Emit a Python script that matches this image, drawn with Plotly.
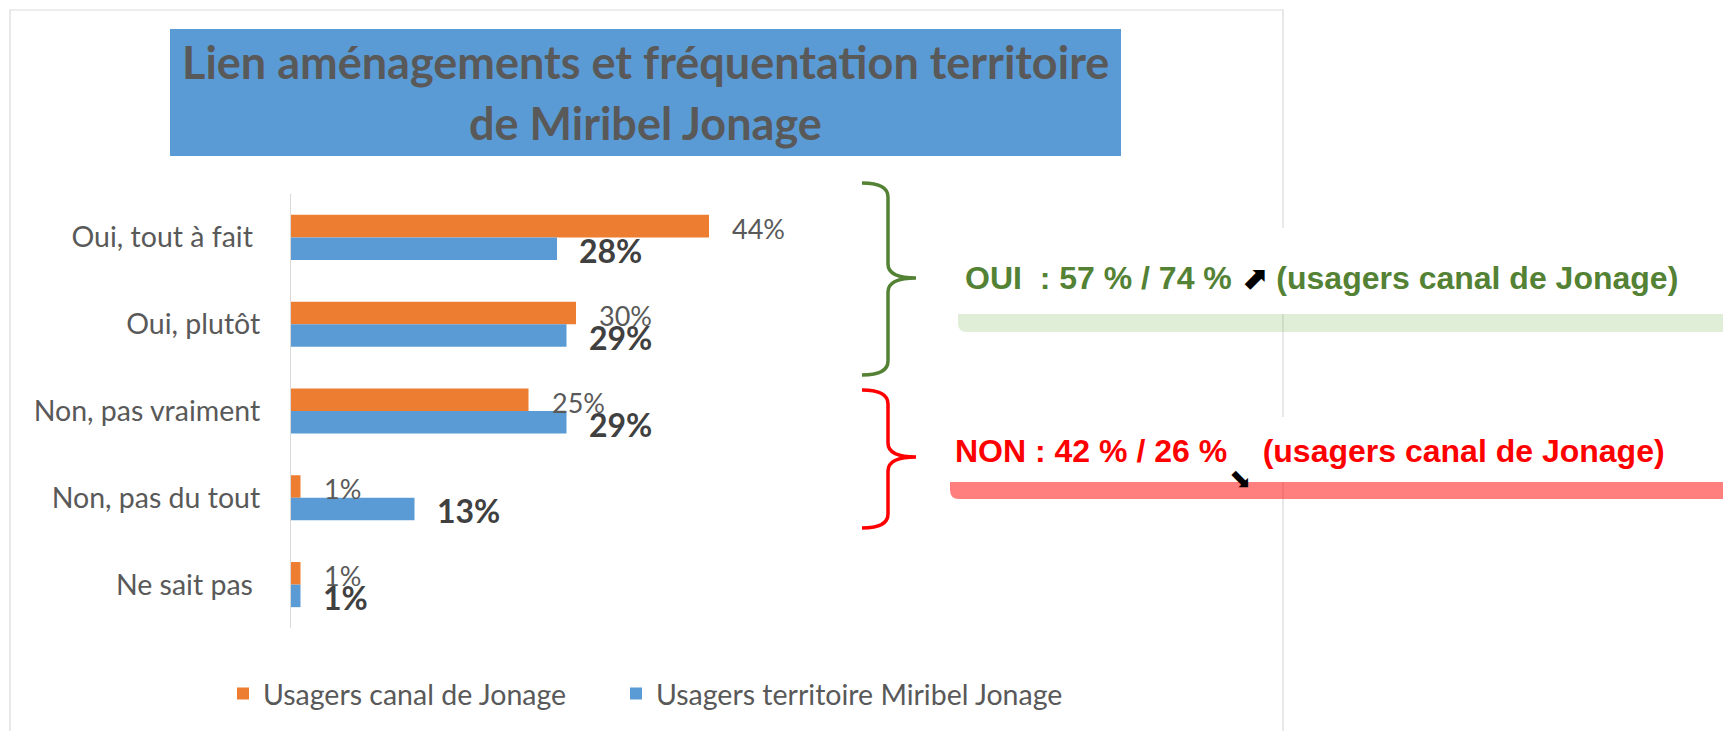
import plotly.graph_objects as go

# data
categories = ["Oui, tout à fait", "Oui, plutôt", "Non, pas vraiment", "Non, pas du tout", "Ne sait pas"]
tick_labels = ["Oui, tout à fait\u00a0", "Oui, plutôt", "Non, pas vraiment", "Non, pas du tout",
               "Ne sait pas\u00a0"]
canal = [44, 30, 25, 1, 1]
territoire = [28, 29, 29, 13, 1]
series_names = ["Usagers canal de Jonage", "Usagers territoire Miribel Jonage"]
title_lines = ["Lien aménagements et fréquentation territoire", "de Miribel Jonage"]
oui_text = ("OUI\u00a0 : 57 % / 74 % <span style='color:black;font-family:DejaVu Sans'>⬈</span>"
            " (usagers canal de Jonage)")
non_text = "NON : 42 % / 26 %\u00a0\u00a0\u00a0\u00a0(usagers canal de Jonage)"

ORANGE = "#ED7D31"
BLUE = "#5B9BD5"
GREY = "#595959"
GREEN = "#548235"
RED = "#FF0000"

# the page puts the figure 8px in from the top-left corner (body margin),
# so every target position below is a page pixel and the figure is kept inside the window
OFF = 8
PAGE_W, PAGE_H = 1731, 739
W, H = PAGE_W - 2 * OFF, PAGE_H - 2 * OFF
L, R, T, B = 291, 1241, 194, 628  # plot area, page pixels


def px(x):
    return (x - L) / (R - L)


def py(y):
    return (B - y) / (B - T)


fig = go.Figure()
fig.add_trace(go.Bar(y=categories, x=canal, orientation="h", name=series_names[0],
                     marker=dict(color=ORANGE, line=dict(width=0)), legend="legend"))
fig.add_trace(go.Bar(y=categories, x=territoire, orientation="h", name=series_names[1],
                     marker=dict(color=BLUE, line=dict(width=0)), legend="legend2"))

annotations = []
# value labels
for cat, v in zip(categories, canal):
    annotations.append(dict(x=v, y=cat, xref="x", yref="y", text=f"{v}%", showarrow=False,
                            xanchor="left", yanchor="middle", xshift=21, yshift=9,
                            font=dict(family="Lato", size=27, color=GREY)))
for cat, v in zip(categories, territoire):
    annotations.append(dict(x=v, y=cat, xref="x", yref="y", text=f"{v}%", showarrow=False,
                            xanchor="left", yanchor="middle", xshift=20, yshift=-13,
                            font=dict(family="Lato", size=32, color="#404040", weight="bold")))

# title (two lines in the blue box)
for line, yc in zip(title_lines, [62, 123]):
    annotations.append(dict(x=px(645), y=py(yc), xref="paper", yref="paper", text=line,
                            showarrow=False, xanchor="center", yanchor="middle",
                            font=dict(family="Lato", size=45, color=GREY, weight="bold")))

# right-hand summaries
annotations.append(dict(x=px(963), y=py(278), xref="paper", yref="paper", text=oui_text,
                        showarrow=False, xanchor="left", yanchor="middle",
                        font=dict(family="Liberation Sans", size=32, color=GREEN, weight="bold")))
annotations.append(dict(x=px(953), y=py(451), xref="paper", yref="paper", text=non_text,
                        showarrow=False, xanchor="left", yanchor="middle",
                        font=dict(family="Liberation Sans", size=32, color=RED, weight="bold")))
annotations.append(dict(x=px(1240), y=py(478), xref="paper", yref="paper", text="⬊",
                        showarrow=False, xanchor="center", yanchor="middle",
                        font=dict(family="DejaVu Sans", size=27, color="black")))


def brace(top, mid, bottom, color):
    x0, x1, x2, r = 862, 888, 916, 14
    path = (f"M {px(x0)},{py(top)} Q {px(x1)},{py(top)} {px(x1)},{py(top + r)} "
            f"L {px(x1)},{py(mid - r)} Q {px(x1)},{py(mid)} {px(x2)},{py(mid)} "
            f"Q {px(x1)},{py(mid)} {px(x1)},{py(mid + r)} "
            f"L {px(x1)},{py(bottom - r)} Q {px(x1)},{py(bottom)} {px(x0)},{py(bottom)}")
    return dict(type="path", xref="paper", yref="paper", path=path,
                line=dict(color=color, width=3.5), layer="above")


def band(x0, top, bottom, color):
    r = 9
    x1 = PAGE_W
    path = (f"M {px(x0)},{py(top)} L {px(x1)},{py(top)} L {px(x1)},{py(bottom)} "
            f"L {px(x0 + r)},{py(bottom)} Q {px(x0)},{py(bottom)} {px(x0)},{py(bottom - r)} Z")
    return dict(type="path", xref="paper", yref="paper", path=path,
                fillcolor=color, line=dict(width=0), layer="above")


shapes = [
    # outer frame
    dict(type="rect", xref="paper", yref="paper", x0=px(10), x1=px(1283), y0=py(10), y1=py(770),
         line=dict(color="#D9D9D9", width=1.2), fillcolor="rgba(0,0,0,0)", layer="below"),
    # title box
    dict(type="rect", xref="paper", yref="paper", x0=px(170), x1=px(1121), y0=py(29), y1=py(156),
         line=dict(width=0), fillcolor=BLUE, layer="below"),
    brace(183, 278, 375, GREEN),
    brace(390, 457, 528, RED),
    band(958, 314, 332, "rgba(112,173,71,0.22)"),
    band(950, 482, 499, "rgba(255,0,0,0.5)"),
    # white call-out boxes
    dict(type="rect", xref="paper", yref="paper", x0=px(950), x1=px(1729), y0=py(228), y1=py(314),
         line=dict(width=0), fillcolor="white", layer="above"),
    dict(type="rect", xref="paper", yref="paper", x0=px(940), x1=px(1729), y0=py(417), y1=py(482),
         line=dict(width=0), fillcolor="white", layer="above"),
]

legend_style = dict(orientation="h", xanchor="left", y=py(694), yanchor="middle",
                    font=dict(family="Lato", size=28.5, color=GREY), bgcolor="rgba(0,0,0,0)")

fig.update_layout(
    template="none",
    width=W, height=H,
    margin=dict(l=L - OFF, r=W - (R - OFF), t=T - OFF, b=H - (B - OFF), pad=0),
    paper_bgcolor="white", plot_bgcolor="white",
    barmode="group", bargap=0.48, bargroupgap=0,
    showlegend=True,
    legend=dict(x=px(223), **legend_style),
    legend2=dict(x=px(616), **legend_style),
    xaxis=dict(range=[0, 100], visible=False, fixedrange=True),
    yaxis=dict(autorange="reversed", showline=True, linecolor="#D9D9D9", linewidth=1.2,
               showgrid=False, ticks="", ticklabelstandoff=24, zeroline=False,
               tickmode="array", tickvals=categories, ticktext=tick_labels,
               tickfont=dict(family="Lato", size=28.5, color=GREY), automargin=False),
    annotations=annotations,
    shapes=shapes,
    hovermode=False,
)

fig.write_html("out.html")
